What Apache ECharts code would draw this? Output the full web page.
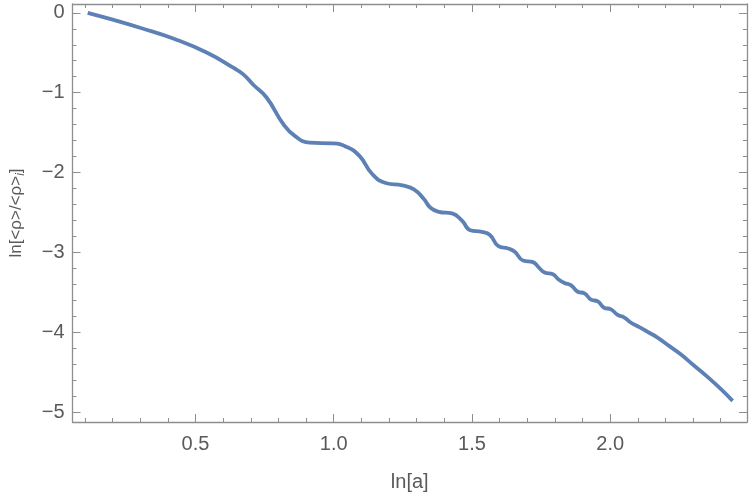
<!DOCTYPE html>
<html>
<head>
<meta charset="utf-8">
<script src="https://cdn.jsdelivr.net/npm/echarts@6/dist/echarts.min.js"></script>
<style>
  html, body { margin: 0; padding: 0; background: #fff; }
  #chart { width: 750px; height: 498px; }
</style>
</head>
<body>
<div id="chart"></div>
<script>
// curve: ln[a] vs ln[<rho>/<rho>_i]
const lnA = [0.11, 0.207, 0.302, 0.422, 0.542, 0.638, 0.673, 0.709, 0.757, 0.817,
  0.859, 0.913, 0.997, 1.045, 1.093, 1.14, 1.188, 1.248, 1.29, 1.326,
  1.35, 1.38, 1.428, 1.464, 1.494, 1.536, 1.565, 1.596, 1.631, 1.655,
  1.685, 1.721, 1.739, 1.763, 1.793, 1.811, 1.835, 1.859, 1.883, 1.907,
  1.931, 1.955, 1.978, 2.003, 2.027, 2.05, 2.074, 2.104, 2.134, 2.17,
  2.206, 2.254, 2.302, 2.35, 2.398, 2.443]
const lnRho = [0, -0.092, -0.19, -0.325, -0.5, -0.69, -0.77, -0.9, -1.06, -1.39,
  -1.54, -1.625, -1.634, -1.675, -1.79, -2.02, -2.13, -2.16, -2.21, -2.33,
  -2.44, -2.49, -2.51, -2.6, -2.72, -2.74, -2.78, -2.92, -2.95, -2.99,
  -3.1, -3.12, -3.175, -3.25, -3.27, -3.33, -3.38, -3.41, -3.49, -3.51,
  -3.59, -3.61, -3.69, -3.71, -3.78, -3.81, -3.875, -3.93, -3.99, -4.06,
  -4.15, -4.27, -4.41, -4.55, -4.7, -4.855]

const xMajor = [0.5, 1.0, 1.5, 2.0]
const xMinor = [0.1, 0.2, 0.3, 0.4, 0.6, 0.7, 0.8, 0.9, 1.1, 1.2, 1.3, 1.4,
  1.6, 1.7, 1.8, 1.9, 2.1, 2.2, 2.3, 2.4]
const yMajor = [0, -1, -2, -3, -4, -5]
const yMinor = [-0.2, -0.4, -0.6, -0.8, -1.2, -1.4, -1.6, -1.8, -2.2, -2.4, -2.6, -2.8,
  -3.2, -3.4, -3.6, -3.8, -4.2, -4.4, -4.6, -4.8]

const X_MIN = 0.055, X_MAX = 2.495
const Y_MIN = -5.12, Y_MAX = 0.11

const frameColor = "#8e8e8e"
const textColor = "#5a5a5a"
const font = "Liberation Sans"

const points = lnA.map((x, i) => [x, lnRho[i]])

function xAxisDef(position, ticks, len, showLine, showLabel) {
  return {
    type: "value",
    position: position,
    min: X_MIN,
    max: X_MAX,
    axisLine: { show: showLine, onZero: false, lineStyle: { color: frameColor, width: 1.3 } },
    axisTick: { show: true, inside: true, length: len, customValues: ticks, lineStyle: { color: frameColor, width: 1 } },
    axisLabel: {
      show: showLabel,
      customValues: ticks,
      margin: 12,
      color: textColor,
      fontSize: 20,
      fontFamily: font,
      formatter: function (v) { return v.toFixed(1) },
    },
    splitLine: { show: false },
  }
}

function yAxisDef(position, ticks, len, showLine, showLabel) {
  return {
    type: "value",
    position: position,
    min: Y_MIN,
    max: Y_MAX,
    axisLine: { show: showLine, onZero: false, lineStyle: { color: frameColor, width: 1.3 } },
    axisTick: { show: true, inside: true, length: len, customValues: ticks, lineStyle: { color: frameColor, width: 1 } },
    axisLabel: {
      show: showLabel,
      customValues: ticks,
      margin: 8,
      color: textColor,
      fontSize: 20,
      fontFamily: font,
      formatter: function (v) { return v < 0 ? "\u2212" + Math.abs(v) : String(v) },
    },
    splitLine: { show: false },
  }
}

const chart = echarts.init(document.getElementById("chart"), null, { renderer: "canvas" })

const xAxes = [
  xAxisDef("bottom", xMajor, 8, true, true),
  xAxisDef("bottom", xMinor, 4, false, false),
  xAxisDef("top", xMajor, 8, true, false),
  xAxisDef("top", xMinor, 4, false, false),
]
xAxes[0].name = "ln[a]"
xAxes[0].nameLocation = "middle"
xAxes[0].nameGap = 50
xAxes[0].nameTextStyle = { color: textColor, fontSize: 20, fontFamily: font }

const yAxes = [
  yAxisDef("left", yMajor, 8, true, true),
  yAxisDef("left", yMinor, 4, false, false),
  yAxisDef("right", yMajor, 8, true, false),
  yAxisDef("right", yMinor, 4, false, false),
]
yAxes[0].name = "{a|ln[<\u03c1>/<\u03c1>}{s|i}{a|]}"
yAxes[0].nameLocation = "middle"
yAxes[0].nameGap = 46
yAxes[0].nameTextStyle = {
  color: textColor,
  fontSize: 17,
  fontFamily: font,
  rich: {
    a: { color: textColor, fontSize: 17, fontFamily: font },
    s: { color: textColor, fontSize: 12, fontFamily: font, fontStyle: "italic", verticalAlign: "bottom", padding: [8, 0, 0, 0] },
  },
}

chart.setOption({
  animation: false,
  grid: { left: 70, right: 3, top: 4, bottom: 76, containLabel: false },
  xAxis: xAxes,
  yAxis: yAxes,
  series: [
    {
      type: "line",
      data: points,
      xAxisIndex: 0,
      yAxisIndex: 0,
      showSymbol: false,
      smooth: 0.5,
      lineStyle: { color: "#5e81b5", width: 3.8 },
    },
  ],
})
</script>
</body>
</html>
